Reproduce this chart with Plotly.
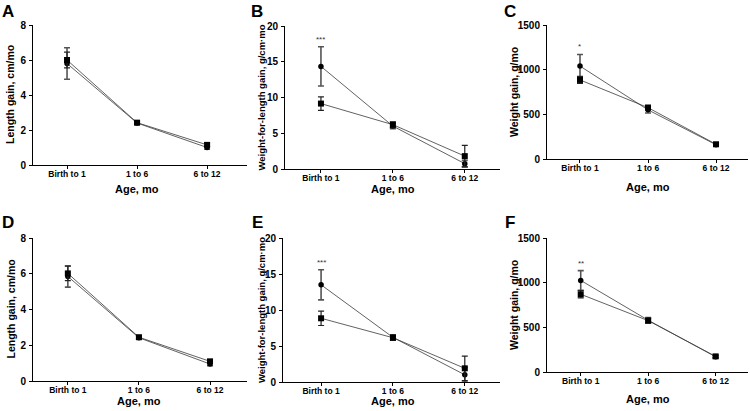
import plotly.graph_objects as go

categories = ["Birth to 1", "1 to 6", "6 to 12"]

# Panel values: circle series and square series (mean, SD)
A_circle = [5.8, 2.4, 1.0]
A_circle_err = [0.9, 0.08, 0.1]
A_square = [6.0, 2.42, 1.15]
A_square_err = [0.45, 0.08, 0.1]

B_circle = [14.35, 6.0, 0.75]
B_circle_err = [2.75, 0.35, 0.45]
B_square = [9.15, 6.2, 1.8]
B_square_err = [0.95, 0.4, 1.5]

C_circle = [1040, 550, 160]
C_circle_err = [130, 35, 15]
C_square = [885, 575, 165]
C_square_err = [40, 25, 15]

D_circle = [5.85, 2.42, 0.95]
D_circle_err = [0.6, 0.08, 0.1]
D_square = [6.02, 2.45, 1.1]
D_square_err = [0.4, 0.08, 0.1]

E_circle = [13.5, 6.2, 1.0]
E_circle_err = [2.1, 0.35, 1.0]
E_square = [8.85, 6.15, 1.9]
E_square_err = [1.0, 0.35, 1.7]

F_circle = [1025, 580, 170]
F_circle_err = [110, 30, 15]
F_square = [870, 575, 175]
F_square_err = [40, 25, 15]

panel_letters = ["A", "B", "C", "D", "E", "F"]
y_titles = ["Length gain, cm/mo", "Weight-for-length gain, g/cm·mo", "Weight gain, g/mo",
            "Length gain, cm/mo", "Weight-for-length gain, g/cm·mo", "Weight gain, g/mo"]
x_title = "Age, mo"
y_ranges = [[0, 8], [0, 20], [0, 1500], [0, 8], [0, 20], [0, 1500]]
y_dticks = [2, 5, 500, 2, 5, 500]
stars = [None, "***", "*", None, "***", "**"]

panels = [
    (A_circle, A_circle_err, A_square, A_square_err),
    (B_circle, B_circle_err, B_square, B_square_err),
    (C_circle, C_circle_err, C_square, C_square_err),
    (D_circle, D_circle_err, D_square, D_square_err),
    (E_circle, E_circle_err, E_square, E_square_err),
    (F_circle, F_circle_err, F_square, F_square_err),
]

W, H = 750, 411
# pixel boxes: x0, x1, ytop, ybottom
boxes = [
    (33, 247, 25, 165),
    (285, 500, 26, 169),
    (547, 748, 25, 159),
    (33, 247, 238, 381),
    (283, 500, 238, 382),
    (547, 748, 238, 372),
]
x_ranges = [[-0.486, 2.57], [-0.5, 2.49], [-0.485, 2.47],
            [-0.49, 2.52], [-0.53, 2.49], [-0.5, 2.48]]
letter_pos = [(8, 12), (257, 12), (510, 12), (8, 222), (257, 222), (510, 222)]
ytitle_x = [10, 261, 514, 10, 261, 514]
xtitle_y = [189, 189, 187, 401, 401, 399]
ytitle_size = [10.5, 9.5, 10.5, 10.5, 9.5, 10.5]

FONT = "Liberation Sans, Arial, sans-serif"
fig = go.Figure()
annotations = []
layout = {}


def px_x(v):
    return v / W


def px_y(v):
    return 1 - v / H


for i, (c, ce, s, se) in enumerate(panels):
    n = i + 1
    xa = "x" if n == 1 else f"x{n}"
    ya = "y" if n == 1 else f"y{n}"
    xkey = "xaxis" if n == 1 else f"xaxis{n}"
    ykey = "yaxis" if n == 1 else f"yaxis{n}"
    x0, x1, yt, yb = boxes[i]
    line_col = "#3a3a3a"
    fig.add_trace(go.Scatter(
        x=categories, y=c, mode="lines+markers",
        line=dict(color=line_col, width=0.8),
        marker=dict(symbol="circle", size=5.5, color="black"),
        error_y=dict(type="data", array=ce, visible=True, color="#555", thickness=1.6, width=3),
        xaxis=xa, yaxis=ya, showlegend=False))
    fig.add_trace(go.Scatter(
        x=categories, y=s, mode="lines+markers",
        line=dict(color=line_col, width=0.8),
        marker=dict(symbol="square", size=6, color="black"),
        error_y=dict(type="data", array=se, visible=True, color="#222", thickness=1.2, width=3),
        xaxis=xa, yaxis=ya, showlegend=False))
    layout[xkey] = dict(
        domain=[px_x(x0), px_x(x1)], anchor=ya, type="category", automargin=False,
        range=x_ranges[i], showline=True, linecolor="black", linewidth=1,
        ticks="outside", ticklen=3, tickcolor="black", showgrid=False, zeroline=False,
        tickfont=dict(family=FONT, size=8.5, color="black", weight="bold"),
        ticklabelstandoff=-2, fixedrange=True)
    layout[ykey] = dict(
        domain=[px_y(yb), px_y(yt)], anchor=xa, automargin=False,
        range=y_ranges[i], dtick=y_dticks[i], showline=True, linecolor="black", linewidth=1,
        ticks="outside", ticklen=3, tickcolor="black", showgrid=False, zeroline=False,
        tickfont=dict(family=FONT, size=10, color="black", weight="bold"),
        ticklabelstandoff=1)
    annotations.append(dict(
        x=px_x(letter_pos[i][0]), y=px_y(letter_pos[i][1]), xref="paper", yref="paper",
        xanchor="center", yanchor="middle",
        text=f"<b>{panel_letters[i]}</b>", showarrow=False,
        font=dict(family=FONT, size=17, color="black")))
    annotations.append(dict(
        x=px_x(ytitle_x[i]), y=px_y((yt + yb) / 2), xref="paper", yref="paper",
        xanchor="center", yanchor="middle",
        text=f"<b>{y_titles[i]}</b>", textangle=-90,
        showarrow=False, font=dict(family=FONT, size=ytitle_size[i], color="black")))
    annotations.append(dict(
        x=categories[1], y=px_y(xtitle_y[i]), xref=xa, yref="paper",
        xanchor="center", yanchor="middle",
        text=f"<b>{x_title}</b>", showarrow=False,
        font=dict(family=FONT, size=11, color="black")))
    if stars[i]:
        top = c[0] + ce[0]
        annotations.append(dict(
            x=categories[0], y=top, xref=xa, yref=ya, text=stars[i], showarrow=False,
            xanchor="center", yanchor="bottom", yshift=1,
            font=dict(family=FONT, size=8, color="#333")))

fig.update_layout(
    width=W, height=H, margin=dict(l=0, r=0, t=0, b=0, autoexpand=False),
    paper_bgcolor="white", plot_bgcolor="white",
    annotations=annotations, **layout)

fig.write_html("out.html", config={"displayModeBar": False},
               post_script="document.body.style.margin='0px';document.body.style.overflow='hidden';")
